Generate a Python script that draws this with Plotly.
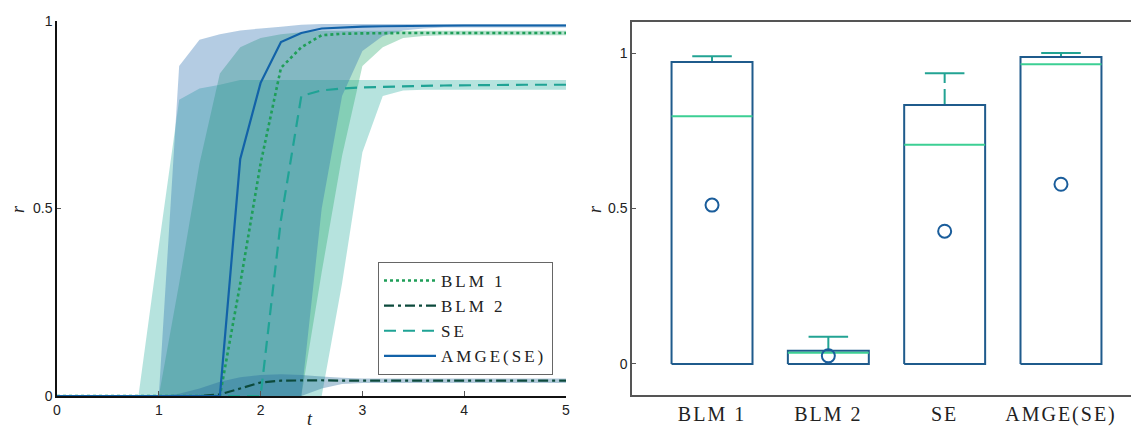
import plotly.graph_objects as go

# ---- time-course data (left panel) ----
t = [0.0, 0.2, 0.4, 0.6, 0.8, 1.0, 1.2, 1.4, 1.6, 1.8, 2.0, 2.2, 2.4,
     2.6, 2.8, 3.0, 3.2, 3.4, 3.6, 3.8, 4.0, 4.2, 4.4, 4.6, 4.8, 5.0]

blm1_mean = [0, 0, 0, 0, 0, 0, 0, 0, 0.0, 0.30, 0.62, 0.875, 0.93,
             0.962, 0.966, 0.967, 0.968, 0.968, 0.968, 0.968, 0.968, 0.968, 0.968, 0.968, 0.968, 0.968]
blm1_hi = [0, 0, 0, 0, 0, 0.0, 0.30, 0.62, 0.86, 0.93, 0.955, 0.965, 0.97,
           0.974, 0.974, 0.974, 0.974, 0.974, 0.974, 0.974, 0.974, 0.974, 0.974, 0.974, 0.974, 0.974]
blm1_lo = [0, 0, 0, 0, 0, 0, 0, 0, 0, 0, 0, 0, 0,
           0.33, 0.64, 0.88, 0.93, 0.955, 0.96, 0.962, 0.962, 0.962, 0.962, 0.962, 0.962, 0.962]

blm2_mean = [0, 0, 0, 0, 0, 0, 0, 0, 0.004, 0.02, 0.036, 0.041, 0.042,
             0.042, 0.041, 0.041, 0.041, 0.041, 0.041, 0.041, 0.041, 0.041, 0.041, 0.041, 0.041, 0.041]
blm2_hi = [0, 0, 0, 0, 0, 0.0, 0.006, 0.02, 0.038, 0.05, 0.056, 0.058, 0.056,
           0.052, 0.049, 0.047, 0.047, 0.047, 0.047, 0.047, 0.047, 0.047, 0.047, 0.047, 0.047, 0.047]
blm2_lo = [0, 0, 0, 0, 0, 0, 0, 0, 0, 0, 0, 0, 0,
           0.02, 0.032, 0.035, 0.035, 0.035, 0.035, 0.035, 0.035, 0.035, 0.035, 0.035, 0.035, 0.035]

se_mean = [0, 0, 0, 0, 0, 0, 0, 0, 0, 0, 0.0, 0.47, 0.80,
           0.815, 0.82, 0.823, 0.825, 0.826, 0.827, 0.828, 0.829, 0.83, 0.83, 0.83, 0.83, 0.83]
se_hi = [0, 0, 0, 0, 0.0, 0.40, 0.79, 0.82, 0.83, 0.843, 0.843, 0.843, 0.843,
         0.843, 0.843, 0.843, 0.843, 0.843, 0.843, 0.843, 0.843, 0.843, 0.843, 0.843, 0.843, 0.843]
se_lo = [0, 0, 0, 0, 0, 0, 0, 0, 0, 0, 0, 0, 0,
         0.0, 0.30, 0.65, 0.80, 0.815, 0.817, 0.817, 0.817, 0.817, 0.817, 0.817, 0.817, 0.817]

amge_mean = [0, 0, 0, 0, 0, 0, 0, 0, 0.0, 0.632, 0.835, 0.944, 0.968,
             0.98, 0.983, 0.985, 0.986, 0.987, 0.987, 0.988, 0.988, 0.988, 0.988, 0.988, 0.988, 0.988]
amge_hi = [0, 0, 0, 0, 0, 0.0, 0.88, 0.95, 0.965, 0.975, 0.98, 0.985, 0.99,
           0.992, 0.992, 0.992, 0.992, 0.992, 0.992, 0.992, 0.992, 0.992, 0.992, 0.992, 0.992, 0.992]
amge_lo = [0, 0, 0, 0, 0, 0, 0, 0, 0, 0, 0, 0, 0,
           0.5, 0.8, 0.92, 0.96, 0.975, 0.98, 0.983, 0.983, 0.983, 0.983, 0.983, 0.983, 0.983]

# ---- summary statistics (right panel) ----
methods = ["BLM 1", "BLM 2", "SE", "AMGE(SE)"]
box_q1 = [0.0, 0.0, 0.0, 0.0]
box_q3 = [0.971, 0.042, 0.833, 0.987]
box_median = [0.797, 0.036, 0.705, 0.964]
whisker_hi = [0.99, 0.087, 0.935, 1.0]
box_mean = [0.511, 0.026, 0.427, 0.578]

SERIF = "Liberation Serif"
SANS = "Liberation Sans"


def spaced(s, px):
    return f'<span style="letter-spacing:{px}px">{s}</span>'


fig = go.Figure()

# shaded spread bands
bands = [
    (se_hi, se_lo, "rgba(45,175,160,0.35)"),
    (blm1_hi, blm1_lo, "rgba(40,170,110,0.35)"),
    (blm2_hi, blm2_lo, "rgba(30,100,150,0.35)"),
    (amge_hi, amge_lo, "rgba(40,110,175,0.35)"),
]
for hi, lo, col in bands:
    fig.add_trace(go.Scatter(
        x=t + t[::-1], y=hi + lo[::-1], fill="toself", fillcolor=col,
        mode="none", hoverinfo="skip", showlegend=False, xaxis="x", yaxis="y"))

# mean curves
curves = [
    (methods[0], blm1_mean, "#1f9e58", "dot", 2.6),
    (methods[1], blm2_mean, "#0c4a3c", "10px,4px,3px,4px", 2.2),
    (methods[2], se_mean, "#1fa395", "12px,7px", 2.2),
    (methods[3], amge_mean, "#1262a8", "solid", 2.2),
]
for name, y, col, dash, w in curves:
    fig.add_trace(go.Scatter(
        x=t, y=y, mode="lines", name=spaced(name, 3),
        line=dict(color=col, dash=dash, width=w),
        xaxis="x", yaxis="y"))

# box-style summary
half_w = 0.348
cap_w = 0.17
box_col = "#1f5b8c"
med_col = "#3ccf94"
whisk_col = "#22a393"
mean_col = "#1a5d9b"

bx, by = [], []
mx, my = [], []
cx, cy = [], []
for i in range(len(methods)):
    bx += [i - half_w, i + half_w, i + half_w, i - half_w, i - half_w, None]
    by += [box_q1[i], box_q1[i], box_q3[i], box_q3[i], box_q1[i], None]
    mx += [i - half_w, i + half_w, None]
    my += [box_median[i], box_median[i], None]
    cx += [i - cap_w, i + cap_w, None]
    cy += [whisker_hi[i], whisker_hi[i], None]

for i in range(len(methods)):
    fig.add_trace(go.Scatter(
        x=[i, i], y=[box_q3[i], whisker_hi[i]], mode="lines",
        line=dict(color=whisk_col, width=2, dash="16px,6px"),
        showlegend=False, xaxis="x2", yaxis="y2"))
fig.add_trace(go.Scatter(x=cx, y=cy, mode="lines", line=dict(color=whisk_col, width=2),
                         showlegend=False, xaxis="x2", yaxis="y2"))
fig.add_trace(go.Scatter(x=bx, y=by, mode="lines", line=dict(color=box_col, width=2),
                         showlegend=False, xaxis="x2", yaxis="y2"))
fig.add_trace(go.Scatter(x=mx, y=my, mode="lines", line=dict(color=med_col, width=2),
                         showlegend=False, xaxis="x2", yaxis="y2"))
fig.add_trace(go.Scatter(
    x=list(range(len(methods))), y=box_mean, mode="markers",
    marker=dict(symbol="circle-open", size=13, color=mean_col, line=dict(width=2, color=mean_col)),
    showlegend=False, xaxis="x2", yaxis="y2", cliponaxis=False))

W, H = 1131, 430
tick_font = dict(family=SANS, size=14, color="#222")

fig.update_layout(
    width=W, height=H, margin=dict(l=0, r=0, t=0, b=0, autoexpand=False),
    paper_bgcolor="white", plot_bgcolor="white",
    xaxis=dict(domain=[57 / W, 566 / W], range=[0, 5], showgrid=False, zeroline=False,
               automargin=False, showline=True, linecolor="#111", linewidth=1.5,
               tickvals=[0, 1, 2, 3, 4, 5], ticktext=["0", "1", "2", "3", "4", "5"],
               ticks="inside", ticklen=5, tickcolor="#555", tickfont=tick_font, anchor="y"),
    yaxis=dict(domain=[34 / H, 409 / H], range=[0, 1], showgrid=False, zeroline=False,
               automargin=False, showline=True, linecolor="#111", linewidth=1.5,
               tickvals=[0, 0.5, 1], ticktext=["0", "0.5", "1"],
               ticks="inside", ticklen=4, tickcolor="#555", tickfont=tick_font, anchor="x"),
    xaxis2=dict(domain=[632 / W, 1.0], range=[-0.688, 3.602], showgrid=False, zeroline=False,
                automargin=False, showline=True, mirror=True, linecolor="#555", linewidth=1.5,
                tickvals=[0, 1, 2, 3], ticktext=[spaced(m, 2) for m in methods], ticks="",
                tickfont=dict(family=SERIF, size=20, color="#222"), anchor="y2"),
    yaxis2=dict(domain=[35 / H, 408 / H], range=[-0.1, 1.1], showgrid=False, zeroline=False,
                automargin=False, showline=True, linecolor="#555", linewidth=1.5,
                tickvals=[0, 0.5, 1], ticktext=["0", "0.5", "1"],
                ticks="inside", ticklen=4, tickcolor="#555", tickfont=tick_font, anchor="x2"),
    legend=dict(x=378 / W, y=(H - 262) / H, xanchor="left", yanchor="top",
                bgcolor="white", bordercolor="#666", borderwidth=1, itemwidth=52,
                font=dict(family=SERIF, size=17, color="#222"), tracegroupgap=0),
    annotations=[
        dict(text="<i>r</i>", x=18 / W, y=(H - 209) / H, xref="paper", yref="paper",
             xanchor="center", yanchor="middle",
             showarrow=False, textangle=-90, font=dict(family=SERIF, size=18, color="#222")),
        dict(text="<i>t</i>", x=310 / W, y=(H - 419) / H, xref="paper", yref="paper",
             xanchor="center", yanchor="middle",
             showarrow=False, font=dict(family=SERIF, size=18, color="#222")),
        dict(text="<i>r</i>", x=595 / W, y=(H - 209) / H, xref="paper", yref="paper",
             xanchor="center", yanchor="middle",
             showarrow=False, textangle=-90, font=dict(family=SERIF, size=18, color="#222")),
    ],
)

fig.write_html("out.html")
